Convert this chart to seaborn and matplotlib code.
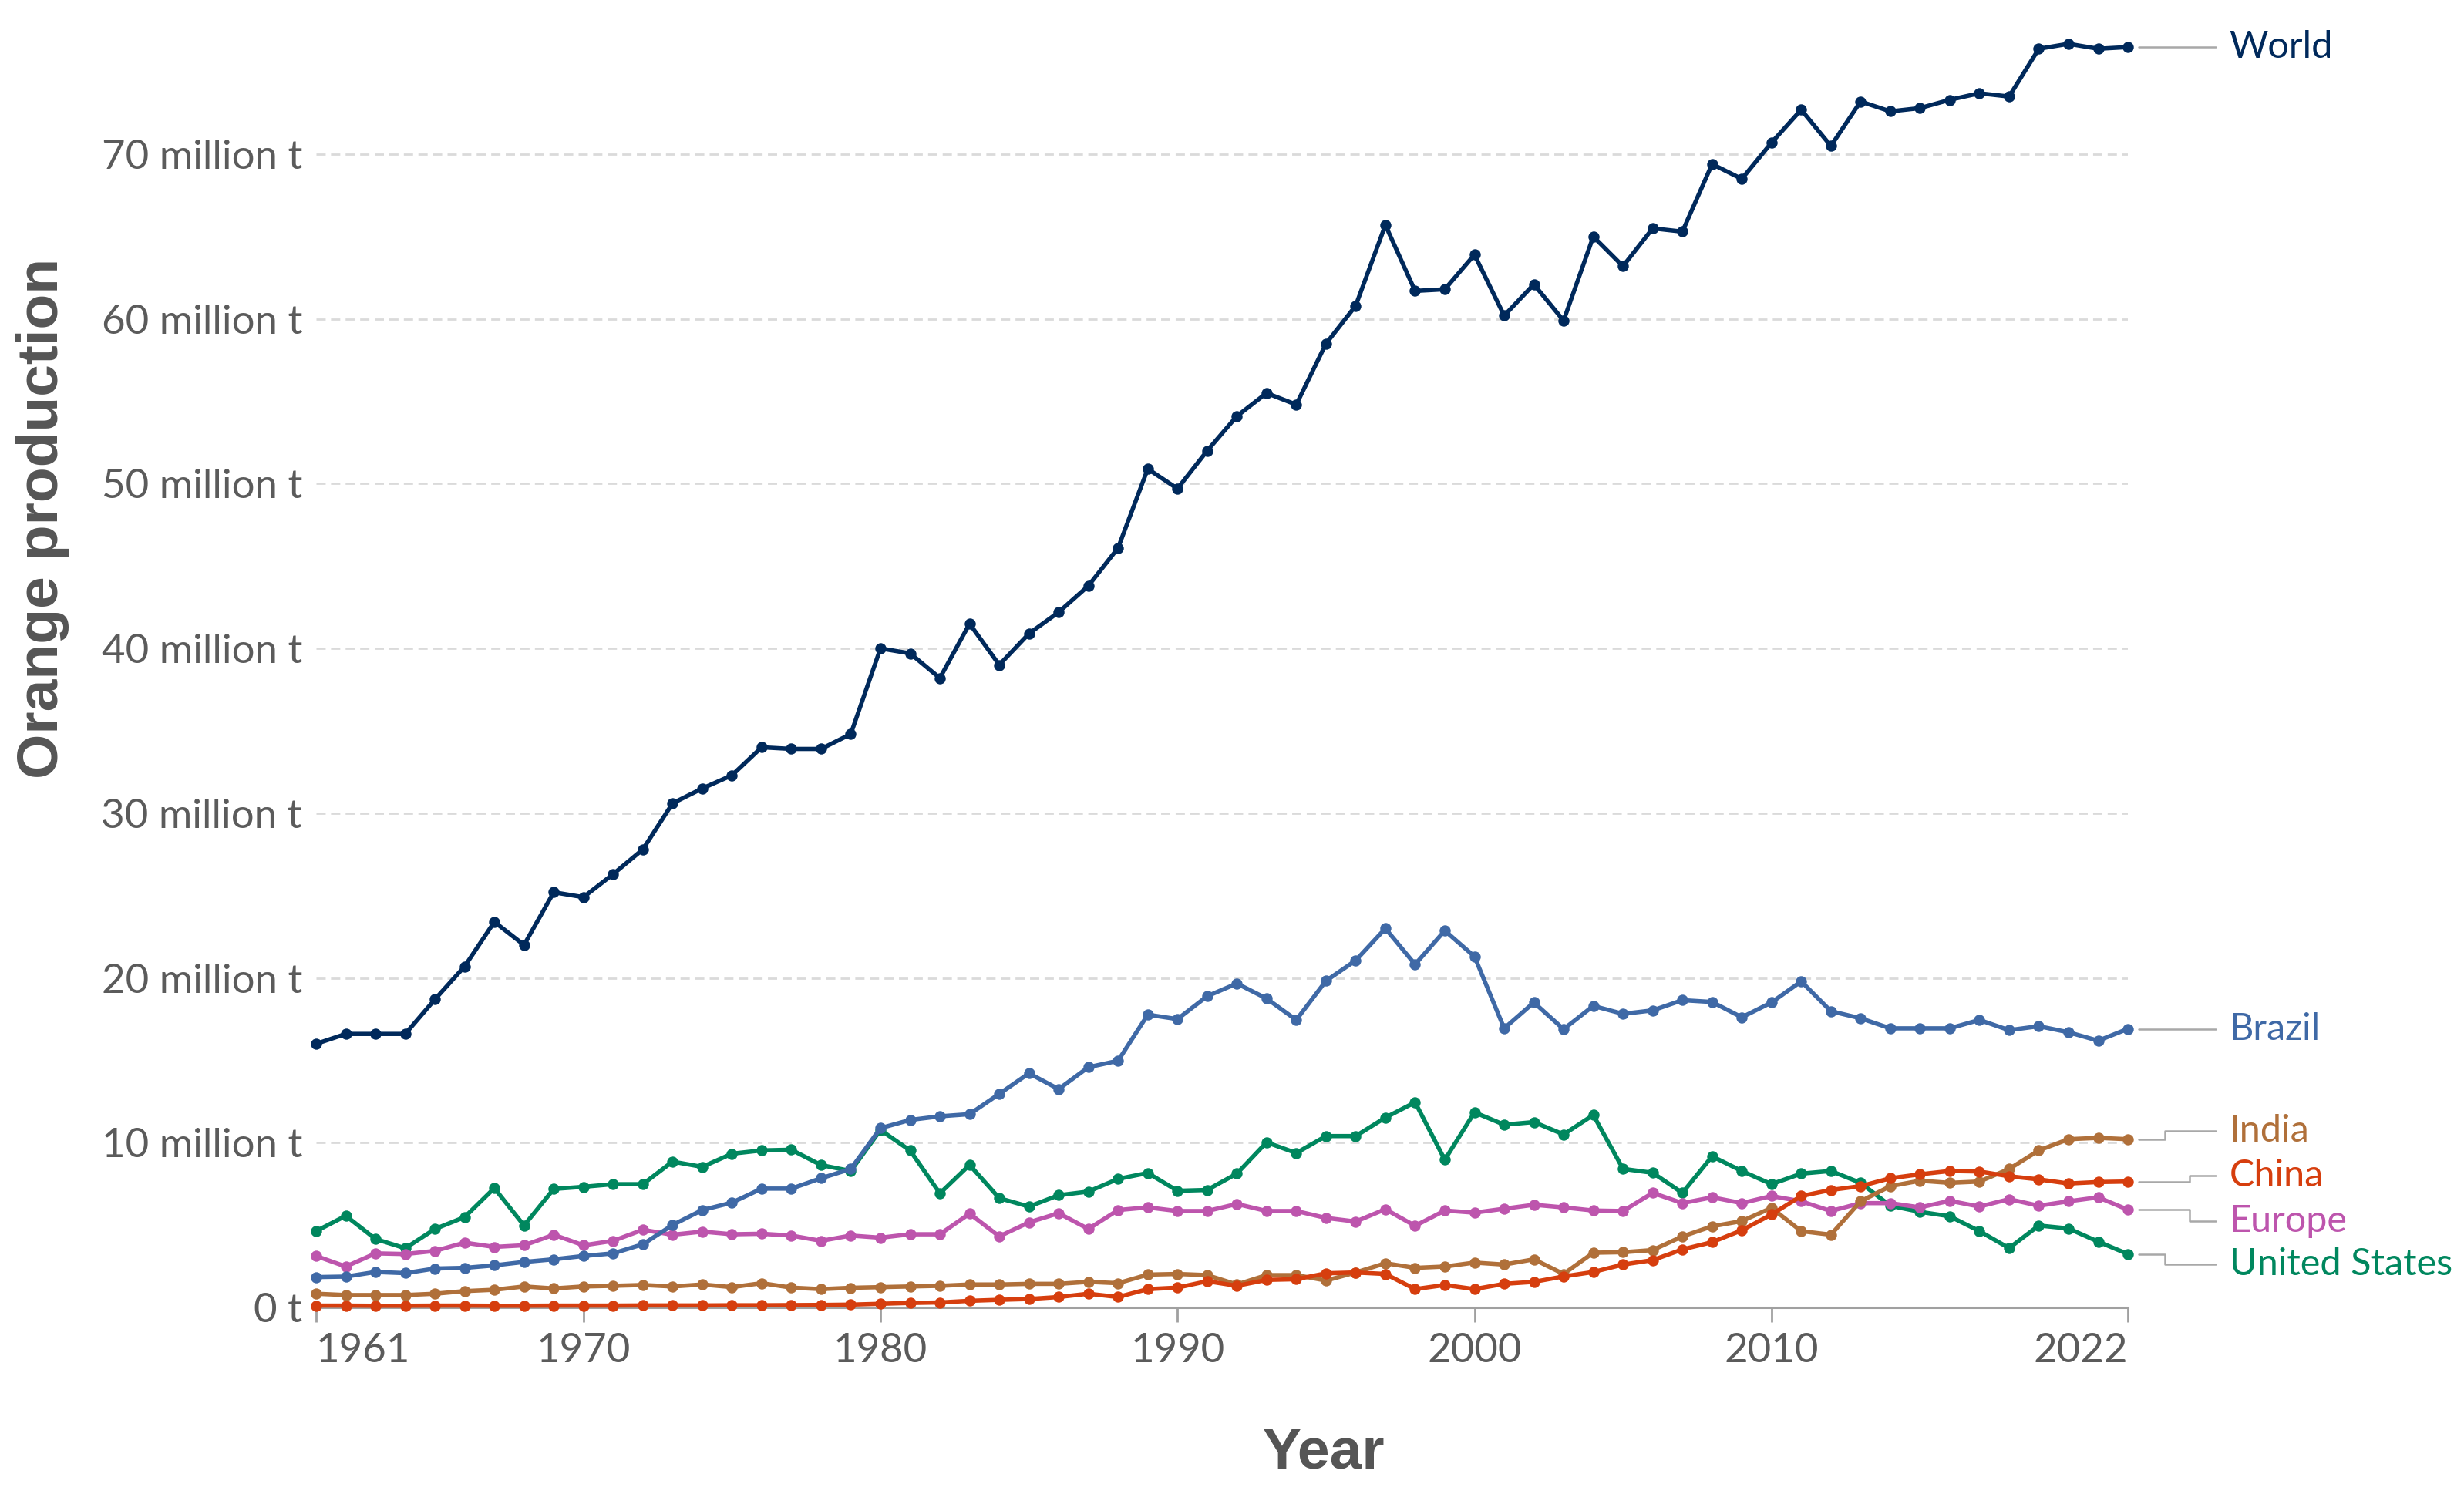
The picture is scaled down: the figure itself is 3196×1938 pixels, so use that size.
import matplotlib
matplotlib.use("Agg")
import matplotlib.pyplot as plt
from matplotlib.ticker import FuncFormatter
import seaborn as sns
import pandas as pd

# Orange production, million tonnes, 1961-2022
years = list(range(1961, 2023))

world = [16.0, 16.6, 16.6, 16.6, 18.7, 20.7, 23.4, 22.0, 25.2, 24.9,
         26.3, 27.8, 30.6, 31.5, 32.3, 34.0, 33.9, 33.9, 34.8, 40.0,
         39.7, 38.2, 41.5, 39.0, 40.9, 42.2, 43.8, 46.1, 50.9, 49.7,
         52.0, 54.1, 55.5, 54.8, 58.5, 60.8, 65.7, 61.7, 61.8, 63.9,
         60.2, 62.1, 59.9, 65.0, 63.2, 65.5, 65.3, 69.4, 68.5, 70.7,
         72.7, 70.5, 73.2, 72.6, 72.8, 73.3, 73.7, 73.5, 76.4, 76.7,
         76.4, 76.5]

brazil = [1.84, 1.87, 2.15, 2.08, 2.36, 2.40, 2.55, 2.76, 2.92, 3.12,
          3.28, 3.83, 5.00, 5.91, 6.36, 7.21, 7.21, 7.84, 8.40, 10.88,
          11.38, 11.60, 11.73, 12.96, 14.21, 13.25, 14.58, 14.97, 17.77, 17.50,
          18.89, 19.66, 18.75, 17.45, 19.82, 21.06, 23.00, 20.82, 22.87, 21.30,
          16.94, 18.51, 16.89, 18.30, 17.82, 18.03, 18.65, 18.54, 17.61, 18.51,
          19.79, 17.98, 17.55, 16.94, 16.94, 16.94, 17.45, 16.83, 17.07, 16.70,
          16.19, 16.91]

india = [0.83, 0.75, 0.75, 0.75, 0.83, 0.99, 1.07, 1.27, 1.15, 1.27,
         1.31, 1.36, 1.27, 1.39, 1.23, 1.47, 1.20, 1.11, 1.19, 1.23,
         1.27, 1.31, 1.39, 1.39, 1.43, 1.43, 1.55, 1.47, 1.99, 2.03,
         1.96, 1.39, 1.96, 1.96, 1.63, 2.12, 2.68, 2.40, 2.48, 2.72,
         2.60, 2.92, 2.03, 3.32, 3.35, 3.48, 4.31, 4.92, 5.24, 6.04,
         4.63, 4.41, 6.44, 7.36, 7.69, 7.56, 7.64, 8.40, 9.53, 10.21,
         10.29, 10.21]

china = [0.11, 0.11, 0.10, 0.10, 0.11, 0.11, 0.10, 0.10, 0.11, 0.11,
         0.11, 0.12, 0.12, 0.12, 0.13, 0.13, 0.14, 0.15, 0.17, 0.22,
         0.27, 0.30, 0.40, 0.46, 0.51, 0.63, 0.83, 0.63, 1.11, 1.20,
         1.59, 1.31, 1.67, 1.71, 2.07, 2.12, 2.03, 1.11, 1.36, 1.11,
         1.43, 1.55, 1.88, 2.15, 2.60, 2.87, 3.52, 3.96, 4.68, 5.64,
         6.76, 7.13, 7.36, 7.84, 8.08, 8.28, 8.25, 7.96, 7.77, 7.52,
         7.61, 7.64]

europe = [3.12, 2.48, 3.28, 3.24, 3.43, 3.93, 3.67, 3.77, 4.41, 3.77,
          4.04, 4.71, 4.41, 4.60, 4.44, 4.47, 4.36, 4.04, 4.36, 4.23,
          4.44, 4.44, 5.69, 4.31, 5.16, 5.72, 4.76, 5.91, 6.07, 5.85,
          5.85, 6.28, 5.85, 5.85, 5.43, 5.21, 5.96, 4.95, 5.88, 5.75,
          5.99, 6.23, 6.07, 5.88, 5.85, 6.95, 6.33, 6.68, 6.33, 6.76,
          6.44, 5.85, 6.33, 6.33, 6.07, 6.47, 6.12, 6.57, 6.17, 6.44,
          6.68, 5.93]

united_states = [4.63, 5.56, 4.15, 3.59, 4.76, 5.48, 7.24, 4.97, 7.19, 7.32,
                 7.48, 7.48, 8.85, 8.53, 9.33, 9.53, 9.57, 8.64, 8.28, 10.77,
                 9.52, 6.92, 8.65, 6.63, 6.12, 6.81, 7.03, 7.80, 8.16, 7.08,
                 7.13, 8.12, 10.02, 9.37, 10.40, 10.40, 11.52, 12.45, 8.96, 11.84,
                 11.09, 11.25, 10.50, 11.68, 8.41, 8.17, 6.95, 9.17, 8.28, 7.48,
                 8.12, 8.28, 7.56, 6.17, 5.80, 5.53, 4.63, 3.60, 4.97, 4.79,
                 3.99, 3.24]

entities = ["World", "Brazil", "India", "China", "Europe", "United States"]
x_ticks = [1961, 1970, 1980, 1990, 2000, 2010, 2022]
y_ticks = [0, 10, 20, 30, 40, 50, 60, 70]

colors = {
    "World": "#00295b",
    "Brazil": "#3f69a6",
    "India": "#b0703a",
    "China": "#d63e0e",
    "Europe": "#bd55ad",
    "United States": "#00875e",
}

sns.set_theme(style="white")
plt.rcParams["font.family"] = ["Lato", "DejaVu Sans"]

df = pd.DataFrame({
    "Year": years,
    "World": world,
    "Brazil": brazil,
    "India": india,
    "China": china,
    "Europe": europe,
    "United States": united_states,
}).melt(id_vars="Year", var_name="Entity", value_name="Production")

fig = plt.figure(figsize=(15.98, 9.69), dpi=200)
ax = fig.add_axes([0.1283, 0.1249, 0.7353, 0.8601])

# draw order: later ones on top
draw_order = ["United States", "Europe", "India", "China", "Brazil", "World"]
sns.lineplot(data=df, x="Year", y="Production", hue="Entity",
             hue_order=draw_order, palette=colors, legend=False, ax=ax,
             marker="o", markersize=5.2, markeredgewidth=0, linewidth=2.0,
             clip_on=False, zorder=3)

ax.set_xlim(1961, 2022)
ax.set_ylim(0, 78)
ax.set_xticks(x_ticks)
ax.set_yticks(y_ticks)
ax.yaxis.set_major_formatter(FuncFormatter(
    lambda v, p: "0 t" if v == 0 else f"{int(v)} million t"))

ax.yaxis.grid(True, color="#dadada", linestyle=(0, (4.3, 2.5)), linewidth=1.0)
ax.xaxis.grid(False)
sns.despine(ax=ax, left=True)
ax.spines["bottom"].set_color("#a0a0a0")
ax.spines["bottom"].set_linewidth(1.1)
ax.spines["bottom"].set_zorder(1)

ax.tick_params(axis="x", bottom=True, length=7, width=1, color="#a0a0a0",
               labelcolor="#5b5b5b", labelsize=19, pad=5)
ax.tick_params(axis="y", left=False, length=0, labelcolor="#5b5b5b",
               labelsize=19, pad=6.5)

# first and last year labels sit inside the axis ends
xlabels = ax.get_xticklabels()
xlabels[0].set_ha("left")
xlabels[-1].set_ha("right")

ax.set_xlabel("Year", fontsize=27, fontweight="bold", color="#555555",
              family="Liberation Sans")
ax.xaxis.set_label_coords(0.556, -0.093)
ax.set_ylabel("Orange production", fontsize=27, fontweight="bold",
              color="#555555", family="Liberation Sans")
ax.yaxis.set_label_coords(-0.136, 0.614)

# end labels with connector lines
ends = {name: df[df["Entity"] == name]["Production"].iloc[-1] for name in entities}
label_y = {"World": ends["World"], "Brazil": ends["Brazil"],
           "India": 10.69, "China": 8.0, "Europe": 5.22, "United States": 2.62}
elbow = {"India": 1.0204, "China": 1.034, "Europe": 1.034, "United States": 1.0204}
trans = ax.get_yaxis_transform()
for name in entities:
    y0, y1 = ends[name], label_y[name]
    if name in elbow:
        xs = [1.006, elbow[name], elbow[name], 1.0485]
        ys = [y0, y0, y1, y1]
    else:
        xs = [1.006, 1.0485]
        ys = [y0, y1]
    ax.plot(xs, ys, transform=trans, color="#a8a8a8", linewidth=0.9, clip_on=False)
    ax.text(1.056, y1, name, transform=trans, color=colors[name],
            fontsize=17.5, ha="left", va="center")

fig.savefig("out.png", dpi=200)
